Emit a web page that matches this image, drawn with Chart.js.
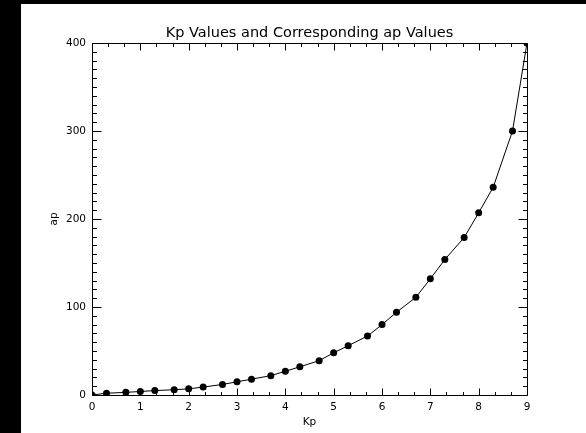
<!DOCTYPE html>
<html>
<head>
<meta charset="utf-8">
<title>Kp Values and Corresponding ap Values</title>
<script src="https://cdn.jsdelivr.net/npm/chart.js@4/dist/chart.umd.min.js"></script>
<style>
  html, body { margin: 0; padding: 0; background: #000; overflow: hidden; }
  canvas { display: block; }
</style>
</head>
<body>
<canvas id="chart" width="586" height="433"></canvas>
<script>
// Kp index steps and the ap equivalent for each step
const kpValues = [0, 0.3, 0.7, 1, 1.3, 1.7, 2, 2.3, 2.7, 3, 3.3, 3.7, 4, 4.3, 4.7,
                  5, 5.3, 5.7, 6, 6.3, 6.7, 7, 7.3, 7.7, 8, 8.3, 8.7, 9];
const apValues = [0, 2, 3, 4, 5, 6, 7, 9, 12, 15, 18, 22, 27, 32, 39,
                  48, 56, 67, 80, 94, 111, 132, 154, 179, 207, 236, 300, 400];

// Labelled (major) ticks on each axis
const xTicks = [0, 1, 2, 3, 4, 5, 6, 7, 8, 9];
const yTicks = [0, 100, 200, 300, 400];
// Minor tick subdivisions per major interval
const xMinorPerMajor = 3;
const yMinorPerMajor = 10;

const FONT = 'DejaVu Sans';

// Black margin strips and the white page behind the plot
const backdrop = {
  id: 'backdrop',
  beforeDraw(chart) {
    const { ctx, width, height } = chart;
    ctx.save();
    ctx.fillStyle = '#000';
    ctx.fillRect(0, 0, width, height);
    ctx.fillStyle = '#fff';
    ctx.fillRect(21, 4, width - 21, height - 4);
    ctx.restore();
  }
};

// Closed box around the plot with inward major/minor tick marks on all four sides
const boxAxes = {
  id: 'boxAxes',
  afterDraw(chart) {
    const { ctx, chartArea: a, scales: { x, y } } = chart;
    const L = a.left + 0.5, R = a.right + 0.5, T = a.top + 0.5, B = a.bottom + 0.5;
    ctx.save();
    ctx.strokeStyle = '#000';
    ctx.lineWidth = 1;
    ctx.beginPath();
    ctx.rect(L, T, R - L, B - T);

    const xMajorLen = 7, xMinorLen = 3.5;
    for (let i = 0; i < xTicks.length; i++) {
      const v = xTicks[i];
      const px = Math.round(x.getPixelForValue(v)) + 0.5;
      ctx.moveTo(px, B); ctx.lineTo(px, B - xMajorLen);
      ctx.moveTo(px, T); ctx.lineTo(px, T + xMajorLen);
      if (i < xTicks.length - 1) {
        const step = (xTicks[i + 1] - v) / xMinorPerMajor;
        for (let k = 1; k < xMinorPerMajor; k++) {
          const mx = Math.round(x.getPixelForValue(v + k * step)) + 0.5;
          ctx.moveTo(mx, B); ctx.lineTo(mx, B - xMinorLen);
          ctx.moveTo(mx, T); ctx.lineTo(mx, T + xMinorLen);
        }
      }
    }

    const yMajorLen = 9, yMinorLen = 4.5;
    for (let i = 0; i < yTicks.length; i++) {
      const v = yTicks[i];
      const py = Math.round(y.getPixelForValue(v)) + 0.5;
      ctx.moveTo(L, py); ctx.lineTo(L + yMajorLen, py);
      ctx.moveTo(R, py); ctx.lineTo(R - yMajorLen, py);
      if (i < yTicks.length - 1) {
        const step = (yTicks[i + 1] - v) / yMinorPerMajor;
        for (let k = 1; k < yMinorPerMajor; k++) {
          const my = Math.round(y.getPixelForValue(v + k * step)) + 0.5;
          ctx.moveTo(L, my); ctx.lineTo(L + yMinorLen, my);
          ctx.moveTo(R, my); ctx.lineTo(R - yMinorLen, my);
        }
      }
    }
    ctx.stroke();
    ctx.restore();
  }
};

const points = kpValues.map((kp, i) => ({ x: kp, y: apValues[i] }));

new Chart(document.getElementById('chart'), {
  type: 'line',
  data: {
    datasets: [{
      data: points,
      borderColor: '#000',
      borderWidth: 1,
      backgroundColor: '#000',
      pointRadius: 3.5,
      pointBorderWidth: 0,
      pointBackgroundColor: '#000',
      tension: 0,
      fill: false,
      clip: 0
    }]
  },
  options: {
    responsive: false,
    animation: false,
    devicePixelRatio: 1,
    events: [],
    layout: { padding: { left: 0, top: 0, right: 59, bottom: 0 } },
    plugins: {
      legend: { display: false },
      tooltip: { enabled: false },
      title: {
        display: true,
        fullSize: false,
        align: 'center',
        text: 'Kp Values and Corresponding ap Values',
        color: '#000',
        font: { family: FONT, size: 14.5, weight: 'normal', lineHeight: 1.2 },
        padding: { top: 25, bottom: 0.6 }
      }
    },
    scales: {
      x: {
        type: 'linear',
        min: 0,
        max: 9,
        afterBuildTicks(scale) { scale.ticks = xTicks.map(v => ({ value: v })); },
        afterFit(scale) { scale.height = 38; },
        grid: { display: false, drawTicks: false },
        border: { display: false },
        ticks: {
          color: '#000',
          padding: 5.7,
          maxRotation: 0,
          autoSkip: false,
          font: { family: FONT, size: 10.5, lineHeight: 1.2 }
        },
        title: {
          display: true,
          text: 'Kp',
          color: '#000',
          font: { family: FONT, size: 10.5, lineHeight: 1.2 },
          padding: { top: 0, bottom: 4.8 }
        }
      },
      y: {
        type: 'linear',
        min: 0,
        max: 400,
        afterBuildTicks(scale) { scale.ticks = yTicks.map(v => ({ value: v })); },
        afterFit(scale) { scale.width = 92; },
        grid: { display: false, drawTicks: false },
        border: { display: false },
        ticks: {
          color: '#000',
          padding: 6,
          autoSkip: false,
          font: { family: FONT, size: 10.5, lineHeight: 1.2 }
        },
        title: {
          display: true,
          text: 'ap',
          color: '#000',
          font: { family: FONT, size: 10.5, lineHeight: 1.2 },
          padding: { top: 47.7, bottom: 0 }
        }
      }
    }
  },
  plugins: [backdrop, boxAxes]
});
</script>
</body>
</html>
